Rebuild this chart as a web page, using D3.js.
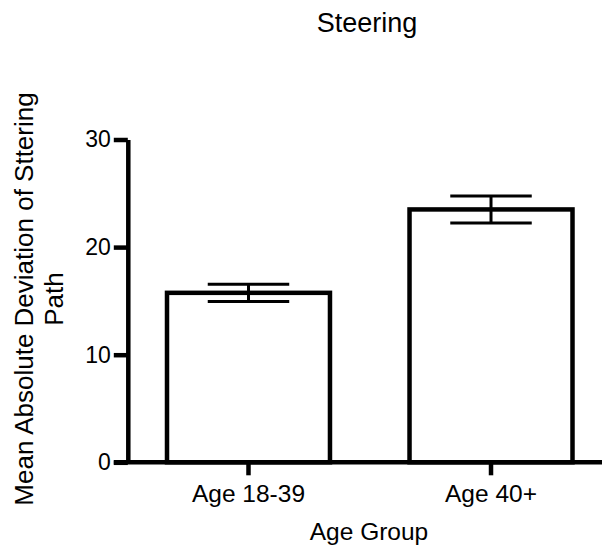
<!DOCTYPE html>
<html>
<head>
<meta charset="utf-8">
<script src="https://cdn.jsdelivr.net/npm/d3@7"></script>
<style>
  html, body { margin: 0; padding: 0; background: #fff; }
  svg { display: block; font-family: "Liberation Sans", Arial, Helvetica, sans-serif; }
</style>
</head>
<body>
<svg id="chart" width="602" height="546"></svg>
<script>
// ---- data ----
const categories = ["Age 18-39", "Age 40+"];
const means = [15.75, 23.5];
const errors = [0.8, 1.25];
const yTicks = [0, 10, 20, 30];
const title = "Steering";
const xTitle = "Age Group";
const yTitleLines = ["Mean Absolute Deviation of Sttering", "Path"];

// ---- layout ----
const W = 602, H = 546;
const axisX = 127.8;
const yTop = 139.5, yBottom = 462.3;
const barStart = 167, barEnd = 572.5;

const svg = d3.select("#chart");

const y = d3.scaleLinear().domain([0, 30]).range([yBottom, yTop]);
const x = d3.scaleBand().domain(categories).range([barStart, barEnd])
  .paddingInner(0.328).paddingOuter(0);

const data = categories.map((c, i) => ({ c, m: means[i], e: errors[i] }));

// bars
svg.append("g").selectAll("rect").data(data).join("rect")
  .attr("x", d => x(d.c))
  .attr("y", d => y(d.m))
  .attr("width", x.bandwidth())
  .attr("height", d => y(0) - y(d.m))
  .attr("fill", "#fff")
  .attr("stroke", "#000")
  .attr("stroke-width", 4.5);

// error bars
const eb = svg.append("g").attr("stroke", "#000").attr("stroke-width", 3);
data.forEach(d => {
  const cx = x(d.c) + x.bandwidth() / 2;
  const hw = x.bandwidth() / 4;
  eb.append("line").attr("x1", cx).attr("x2", cx).attr("y1", y(d.m + d.e)).attr("y2", y(d.m - d.e));
  eb.append("line").attr("x1", cx - hw).attr("x2", cx + hw).attr("y1", y(d.m + d.e)).attr("y2", y(d.m + d.e));
  eb.append("line").attr("x1", cx - hw).attr("x2", cx + hw).attr("y1", y(d.m - d.e)).attr("y2", y(d.m - d.e));
});

// y axis
const yAxis = svg.append("g")
  .attr("transform", `translate(${axisX},0)`)
  .call(d3.axisLeft(y).tickValues(yTicks).tickSize(14).tickSizeOuter(0).tickPadding(3));
yAxis.selectAll("path, line").attr("stroke", "#000").attr("stroke-width", 4.5);
yAxis.selectAll("text").attr("font-size", 23).attr("fill", "#000")
  .attr("font-family", "Liberation Sans, Arial, sans-serif");

// x axis
const xAxis = svg.append("g")
  .attr("transform", `translate(0,${yBottom})`)
  .call(d3.axisBottom(x).tickSize(13).tickSizeOuter(0).tickPadding(9));
xAxis.select(".domain").remove();
xAxis.append("line").attr("x1", axisX - 14).attr("x2", W).attr("y1", 0).attr("y2", 0);
xAxis.selectAll("line").attr("stroke", "#000").attr("stroke-width", 4.5);
xAxis.selectAll("text").attr("font-size", 24.5).attr("fill", "#000")
  .attr("font-family", "Liberation Sans, Arial, sans-serif");

// titles
svg.append("text").attr("x", 367).attr("y", 32).attr("text-anchor", "middle")
  .attr("font-size", 27).text(title);
svg.append("text").attr("x", 369).attr("y", 540).attr("text-anchor", "middle")
  .attr("font-size", 24.5).text(xTitle);
const yt = svg.append("text").attr("transform", "rotate(-90)").attr("text-anchor", "middle")
  .attr("font-size", 26);
yTitleLines.forEach((t, i) => {
  yt.append("tspan").attr("x", -299).attr("y", 33 + i * 30).text(t);
});
</script>
</body>
</html>
